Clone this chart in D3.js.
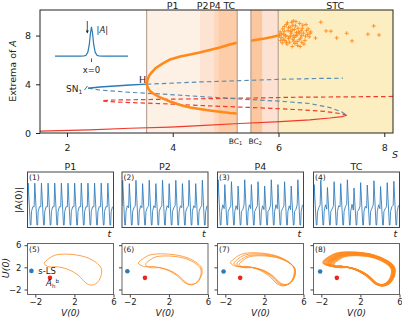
<!DOCTYPE html>
<html>
<head>
<meta charset="utf-8">
<script src="https://cdn.jsdelivr.net/npm/d3@7"></script>
<style>
  body { margin: 0; background: #fff; }
  svg { display: block; font-family: 'DejaVu Sans', sans-serif; }
</style>
</head>
<body>
<div id="chart"></div>
<script>
// ---- top panel: bifurcation diagram (s, extrema of A) ----
const redSolidS = [1.49, 2.43, 3.19, 3.95, 4.51, 5.27, 6.03, 6.59, 6.97, 7.20, 7.29];
const redSolidA = [0.15, 0.25, 0.39, 0.49, 0.61, 0.78, 0.93, 1.08, 1.23, 1.35, 1.46];
const redDashS = [8.165, 7.35, 6.40, 5.46, 4.51, 3.57, 2.91, 2.66, 2.72, 3.19, 3.95, 4.51, 5.27, 5.84, 6.40, 6.88, 7.16, 7.29];
const redDashA = [3.00, 2.97, 2.94, 2.87, 2.81, 2.75, 2.71, 2.66, 2.59, 2.50, 2.38, 2.26, 2.13, 2.03, 1.91, 1.77, 1.60, 1.46];
const blueSolidS = [2.40, 2.62, 2.91, 3.19, 3.51];
const blueSolidA = [3.68, 3.78, 3.86, 3.94, 4.01];
const blueUpS = [3.51, 4.51, 5.27, 6.03, 6.78, 7.22];
const blueUpA = [4.01, 4.19, 4.30, 4.41, 4.48, 4.50];
const blueLowS = [2.40, 2.62, 3.19, 3.95, 4.51, 5.27, 6.03, 6.59, 6.97, 7.20, 7.29];
const blueLowA = [3.68, 3.53, 3.34, 3.16, 3.00, 2.79, 2.61, 2.42, 2.09, 1.72, 1.46];
const orMaxS = [3.507, 3.522, 3.55, 3.607, 3.68, 3.80, 3.95, 4.14, 4.33, 4.51, 4.70, 4.89, 5.08, 5.21];
const orMaxA = [4.01, 4.35, 4.68, 5.01, 5.34, 5.67, 6.04, 6.28, 6.45, 6.61, 6.82, 7.02, 7.27, 7.42];
const orMinS = [3.507, 3.53, 3.57, 3.645, 3.76, 3.95, 4.14, 4.33, 4.51, 4.70, 4.89, 5.08, 5.21];
const orMinA = [4.01, 3.70, 3.45, 3.20, 2.92, 2.59, 2.30, 2.09, 1.97, 1.85, 1.74, 1.64, 1.60];
const orPostS = [5.48, 5.61, 5.74, 5.88, 5.99];
const orPostA = [7.58, 7.68, 7.76, 7.88, 8.01];
const stcPoints = [
  [6.02,8.05],[6.05,7.85],[6.03,8.3],[6.08,8.55],[6.10,8.1],[6.12,7.6],[6.07,7.4],[6.15,8.9],[6.18,8.4],
  [6.20,7.9],[6.16,7.3],[6.22,8.7],[6.25,9.1],[6.24,8.2],[6.27,7.7],[6.30,8.5],[6.28,9.2],[6.33,8.0],
  [6.35,7.5],[6.32,8.8],[6.38,8.3],[6.40,9.0],[6.42,7.8],[6.45,8.6],[6.47,8.2],[6.50,7.6],[6.52,8.9],
  [6.55,8.1],[6.58,7.9],[6.48,7.3],[6.36,7.2],[6.26,7.1],[6.14,8.0],[6.19,8.65],[6.29,8.0],[6.37,8.6],
  [6.43,8.4],[6.11,8.75],[6.21,7.45],[6.31,7.35],[6.41,7.1],[6.06,8.15],[6.13,7.95],[6.23,7.95],[6.34,8.25],
  [6.44,8.0],[6.53,8.4],[6.17,9.05],[6.26,8.45],[6.39,7.65],[6.09,7.7],[6.46,8.85],[6.56,8.55],[6.33,9.15],
  [6.19,7.75],[6.29,7.55],[6.04,7.6],[6.51,7.95],[6.23,8.35],[6.35,8.05],[6.60,8.2],[6.15,7.45],[6.40,8.2],
  [6.01,8.0],[6.27,8.85],[6.11,8.35],[6.44,7.45],[6.30,7.85],
  [6.61,8.30],[6.70,7.8],[6.80,9.10],[6.90,8.38],[6.99,8.36],[7.10,7.81],[7.29,8.19],[7.39,7.56],
  [7.69,8.11],[7.80,8.79],[7.90,8.05]
];
const bandStart = [3.507, 4.514, 4.78, 4.86, 5.478, 5.70, 5.994];
const bandEnd   = [4.514, 4.78, 4.86, 5.219, 5.70, 5.994, 8.165];
const boundaryS = [3.507, 5.219, 5.478, 5.994];
const xTicks = [2, 4, 6, 8];
const yTicks = [0, 4, 8];

// inset profile |A| vs x
const insetX = [-10, -6, -3, -2, -1.5, -1, -0.6, -0.3, 0, 0.3, 0.6, 1, 1.5, 2, 3, 6, 10];
const insetA = [0.1, 0.1, 0.1, 0.12, 0.2, 0.6, 1.6, 3.0, 3.9, 3.0, 1.6, 0.6, 0.2, 0.12, 0.1, 0.1, 0.1];

// ---- middle row: |A(0)| time series ----
const panelNames = ['P1', 'P2', 'P4', 'TC'];
const peaksP1 = [0.89, 0.89, 0.89, 0.89, 0.89, 0.89, 0.89, 0.89, 0.89, 0.89, 0.89, 0.89, 0.89];
const peaksP2 = [0.95, 0.88, 0.95, 0.88, 0.95, 0.88, 0.95, 0.88, 0.95, 0.88, 0.95, 0.88, 0.95];
const peaksP4 = [0.96, 0.86, 0.92, 0.83, 0.96, 0.86, 0.92, 0.83, 0.96, 0.86, 0.92, 0.83, 0.96];
const peaksTC = [0.86, 0.95, 0.80, 0.92, 0.88, 0.96, 0.79, 0.90, 0.85, 0.94, 0.82, 0.90, 0.93];
const midsP1 = [0.40, 0.40, 0.40, 0.40, 0.40, 0.40, 0.40, 0.40, 0.40, 0.40, 0.40, 0.40, 0.40];
const midsP2 = [0.42, 0.38, 0.42, 0.38, 0.42, 0.38, 0.42, 0.38, 0.42, 0.38, 0.42, 0.38, 0.42];
const midsP4 = [0.44, 0.36, 0.42, 0.34, 0.44, 0.36, 0.42, 0.34, 0.44, 0.36, 0.42, 0.34, 0.44];
const midsTC = [0.38, 0.44, 0.35, 0.42, 0.40, 0.45, 0.33, 0.41, 0.37, 0.44, 0.36, 0.40, 0.43];
const cyclePhase = [0, 0.10, 0.42, 0.52, 0.60, 0.80];
const cycleLevel = ['m', 'p', 0.02, 0.02, 0.30, 'm'];

// ---- bottom row: (V(0), U(0)) phase portraits ----
const loopV = [4.79, 4.6, 4.2, 3.7, 3.2, 2.4, 1.4, 0.35, -0.6, -1.09, -0.6, 0.0, 1.37, 3.08, 4.2, 4.7];
const loopU = [1.18, -0.1, -0.95, -1.2, -0.85, 0.55, 1.6, 2.08, 2.1, 2.7, 3.6, 4.19, 4.37, 3.89, 2.9, 2.0];
// each loop: [stretch V, stretch U, shift V, shift U]
const loopsP1 = [[1, 1, 0, 0]];
const loopsP2 = [[1.11, 1.0, 0.29, 0.05], [0.97, 0.92, 0.6, -0.1]];
const loopsP4 = [[1.11, 1.07, -0.05, 0.05], [1.06, 1.02, 0.15, 0.0], [1.02, 0.97, 0.32, -0.06], [0.98, 0.93, 0.45, -0.1]];
const loopsTC = [
  [1.26, 1.10, 0.00, 0.12], [1.25, 1.08, 0.04, 0.10], [1.22, 1.09, 0.05, 0.08], [1.21, 1.06, 0.10, 0.07],
  [1.18, 1.07, 0.11, 0.05], [1.17, 1.04, 0.16, 0.05], [1.14, 1.04, 0.17, 0.02], [1.13, 1.01, 0.22, 0.01],
  [1.10, 1.02, 0.23, 0.00], [1.09, 0.99, 0.28, -0.02], [1.06, 0.98, 0.30, -0.03], [1.05, 0.96, 0.34, -0.05],
  [1.02, 0.95, 0.36, -0.06], [1.00, 0.93, 0.40, -0.08], [1.15, 1.03, 0.20, 0.03], [1.08, 1.0, 0.26, -0.01]
];
const lsV = [-2.4, -2.25, -2.18, -2.12];
const lsU = [1.36, 1.3, 1.25, 1.25];
const hbV = [-0.5, -0.45, -0.48, -0.41];
const hbU = [0.1, 0.1, 0.1, 0.1];
const phaseTicks = [-2, 2, 6];

// ---- drawing ----
const W = 402, H = 319;
const svg = d3.select('#chart').append('svg').attr('width', W).attr('height', H);
svg.append('rect').attr('width', W).attr('height', H).attr('fill', '#fff');

const bandFill = ['#fdf0e4', '#fde4d2', '#fdd8bf', '#fccda8', '#fbc79e', '#fde1d2', '#fdeec1'];
const cBlue = '#2c7bb6', cBlueDash = '#5a8db5', cRed = '#ee3b2b', cOrange = '#ff8a1c';

const x = d3.scaleLinear().domain([1.49, 8.165]).range([40, 393]);
const y = d3.scaleLinear().domain([0, 10.1]).range([133, 10]);
const g = svg.append('g');

bandStart.forEach((s0, i) => {
  g.append('rect')
    .attr('x', x(s0)).attr('y', y(10.1))
    .attr('width', x(bandEnd[i]) - x(s0)).attr('height', y(0) - y(10.1))
    .attr('fill', bandFill[i]);
});
boundaryS.forEach(s => {
  g.append('line').attr('x1', x(s)).attr('x2', x(s)).attr('y1', y(0)).attr('y2', y(10.1))
    .attr('stroke', '#a58a7a').attr('stroke-width', 0.9);
});

const line = d3.line().x(d => x(d[0])).y(d => y(d[1]));
function curve(sArr, aArr, color, width, dash) {
  g.append('path').attr('d', line(d3.zip(sArr, aArr)))
    .attr('fill', 'none').attr('stroke', color).attr('stroke-width', width)
    .attr('stroke-dasharray', dash || null);
}
curve(redSolidS, redSolidA, cRed, 1.2);
curve(redDashS, redDashA, cRed, 1.2, '4.5,3');
curve(blueLowS, blueLowA, cBlueDash, 1.2, '4.5,3');
curve(blueUpS, blueUpA, cBlueDash, 1.2, '4.5,3');
curve(blueSolidS, blueSolidA, cBlue, 1.4);
curve(orMaxS, orMaxA, cOrange, 2.6);
curve(orMinS, orMinA, cOrange, 2.6);
curve(orPostS, orPostA, cOrange, 2.6);

g.selectAll('path.stc').data(stcPoints).enter().append('path')
  .attr('class', 'stc')
  .attr('d', 'M-2,0H2M0,-2V2')
  .attr('transform', d => `translate(${x(d[0])},${y(d[1])})`)
  .attr('stroke', cOrange).attr('stroke-width', 0.9).attr('fill', 'none');

g.append('rect').attr('x', 40).attr('y', 10).attr('width', 353).attr('height', 123)
  .attr('fill', 'none').attr('stroke', '#222').attr('stroke-width', 1);

const xAxis = g.append('g').attr('transform', 'translate(0,133)')
  .call(d3.axisBottom(x).tickValues(xTicks).tickSize(4).tickPadding(7).tickFormat(d3.format('d')));
const yAxis = g.append('g').attr('transform', 'translate(40,0)')
  .call(d3.axisLeft(y).tickValues(yTicks).tickSize(4).tickPadding(5).tickFormat(d3.format('d')));
[xAxis, yAxis].forEach(a => {
  a.select('.domain').remove();
  a.selectAll('text').attr('font-size', 9.5).attr('fill', '#222').attr('font-family', 'DejaVu Sans');
  a.selectAll('line').attr('stroke', '#222');
});

svg.append('text').attr('transform', 'translate(16,71) rotate(-90)')
  .attr('text-anchor', 'middle').attr('font-size', 9.5).attr('fill', '#222')
  .html('Extrema of <tspan font-style="italic">A</tspan>');
svg.append('text').attr('x', 392).attr('y', 158).attr('font-size', 9.5)
  .attr('font-style', 'italic').attr('fill', '#222').text('S');

const topLabels = [['P1', 4.0], ['P2', 4.565], ['P4', 4.80], ['TC', 5.07], ['STC', 7.07]];
topLabels.forEach(([t, s]) => {
  svg.append('text').attr('x', x(s)).attr('y', 8.5).attr('text-anchor', 'middle')
    .attr('font-size', 9.5).attr('fill', '#222').text(t);
});
[['1', 5.219, -8.5], ['2', 5.478, -2.5]].forEach(([k, s, off]) => {
  svg.append('text').attr('x', x(s) + off).attr('y', 143.5).attr('font-size', 7.5).attr('fill', '#222')
    .html(`BC<tspan font-size="5" dy="1.5">${k}</tspan>`);
});
svg.append('text').attr('x', 139).attr('y', 82.5).attr('font-size', 9.5).attr('fill', '#222').text('H');
svg.append('text').attr('x', 66).attr('y', 91.5).attr('font-size', 9).attr('fill', '#222')
  .html('SN<tspan font-size="6" dy="2">1</tspan>');
svg.append('line').attr('x1', 84.5).attr('y1', 90).attr('x2', 87.5).attr('y2', 86)
  .attr('stroke', '#222').attr('stroke-width', 0.7);

// inset
const ix = d3.scaleLinear().domain([-10, 10]).range([55, 128]);
const iy = d3.scaleLinear().domain([0, 4]).range([56.8, 26]);
svg.append('path').attr('d', d3.line().x(d => ix(d[0])).y(d => iy(d[1]))(d3.zip(insetX, insetA)))
  .attr('fill', 'none').attr('stroke', cBlue).attr('stroke-width', 1.2);
svg.append('line').attr('x1', ix(0)).attr('x2', ix(0)).attr('y1', 58.5).attr('y2', 62)
  .attr('stroke', '#222').attr('stroke-width', 0.8);
svg.append('text').attr('x', ix(0)).attr('y', 73).attr('text-anchor', 'middle')
  .attr('font-size', 8.5).attr('fill', '#222').text('x=0');
svg.append('line').attr('x1', 87.3).attr('x2', 87.3).attr('y1', 21).attr('y2', 32.5)
  .attr('stroke', '#222').attr('stroke-width', 0.8);
svg.append('path').attr('d', 'M85.8,30.5L87.3,33.5L88.8,30.5Z').attr('fill', '#222');
svg.append('text').attr('x', 96.5).attr('y', 32.5).attr('font-size', 8.5).attr('fill', '#222')
  .html('|<tspan font-style="italic">A</tspan>|');

// middle row
const px0 = [27.5, 122, 217.5, 313.5], pw = 86;
const peaksAll = [peaksP1, peaksP2, peaksP4, peaksTC];
const midsAll = [midsP1, midsP2, midsP4, midsTC];
const ty = d3.scaleLinear().domain([0, 1.08]).range([226, 174]);
panelNames.forEach((name, i) => {
  const peaks = peaksAll[i], mids = midsAll[i];
  const tx = d3.scaleLinear().domain([0, peaks.length - 0.05]).range([px0[i], px0[i] + pw]);
  const pts = [];
  peaks.forEach((p, k) => {
    cyclePhase.forEach((ph, j) => {
      const lv = cycleLevel[j];
      pts.push([k + ph, lv === 'p' ? p : lv === 'm' ? mids[k] : lv]);
    });
  });
  const cid = 'clipT' + i;
  svg.append('clipPath').attr('id', cid).append('rect')
    .attr('x', px0[i]).attr('y', 172).attr('width', pw).attr('height', 55.5);
  svg.append('path').attr('clip-path', `url(#${cid})`)
    .attr('d', d3.line().x(d => tx(d[0])).y(d => ty(d[1]))(pts))
    .attr('fill', 'none').attr('stroke', '#2a78b8').attr('stroke-width', 0.85);
  svg.append('rect').attr('x', px0[i]).attr('y', 172).attr('width', pw).attr('height', 55.5)
    .attr('fill', 'none').attr('stroke', '#444').attr('stroke-width', 1);
  svg.append('text').attr('x', px0[i] + pw / 2).attr('y', 170).attr('text-anchor', 'middle')
    .attr('font-size', 9.5).attr('fill', '#222').text(name);
  svg.append('text').attr('x', px0[i] + 1.5).attr('y', 180).attr('font-size', 7.5)
    .attr('fill', '#222').text(`(${i + 1})`);
  svg.append('text').attr('x', px0[i] + pw - 6).attr('y', 237).attr('font-size', 9.5)
    .attr('font-style', 'italic').attr('fill', '#222').text('t');
});
svg.append('text').attr('transform', 'translate(22,200) rotate(-90)')
  .attr('text-anchor', 'middle').attr('font-size', 9.5).attr('fill', '#222').text('|A(0)|');

// bottom row
const loopsAll = [loopsP1, loopsP2, loopsP4, loopsTC];
const Vc = 1.85, Uc = 1.58;
const uy = d3.scaleLinear().domain([-2.9, 6.3]).range([294.5, 243.5]);
panelNames.forEach((name, i) => {
  const vx = d3.scaleLinear().domain([-2.8, 6.0]).range([px0[i], px0[i] + pw]);
  const lg = d3.line().x(d => vx(d[0])).y(d => uy(d[1])).curve(d3.curveCatmullRomClosed);
  loopsAll[i].forEach(([sv, su, dv, du]) => {
    const pts = loopV.map((v, k) => [Vc + sv * (v - Vc) + dv, Uc + su * (loopU[k] - Uc) + du]);
    svg.append('path').attr('d', lg(pts)).attr('fill', 'none').attr('stroke', cOrange)
      .attr('stroke-width', i === 3 ? 1.1 : 0.8).attr('stroke-opacity', i === 3 ? 0.75 : 1);
  });
  svg.append('circle').attr('cx', vx(lsV[i])).attr('cy', uy(lsU[i])).attr('r', 2.3).attr('fill', '#2b7bba');
  svg.append('circle').attr('cx', vx(hbV[i])).attr('cy', uy(hbU[i])).attr('r', 2.3).attr('fill', '#e8261e');
  svg.append('rect').attr('x', px0[i]).attr('y', 243.5).attr('width', pw).attr('height', 51)
    .attr('fill', 'none').attr('stroke', '#666').attr('stroke-width', 1);
  const ax = svg.append('g').attr('transform', 'translate(0,294.5)')
    .call(d3.axisBottom(vx).tickValues(phaseTicks).tickSize(3).tickPadding(1).tickFormat(d3.format('d')));
  const ay = svg.append('g').attr('transform', `translate(${px0[i]},0)`)
    .call(d3.axisLeft(uy).tickValues(phaseTicks).tickSize(3).tickPadding(3)
      .tickFormat(i === 0 ? d3.format('d') : () => ''));
  [ax, ay].forEach(a => {
    a.select('.domain').remove();
    a.selectAll('text').attr('font-size', 8.5).attr('fill', '#222').attr('font-family', 'DejaVu Sans');
    a.selectAll('line').attr('stroke', '#444');
  });
  svg.append('text').attr('x', px0[i] + pw / 2).attr('y', 315.5).attr('text-anchor', 'middle')
    .attr('font-size', 9).attr('font-style', 'italic').attr('fill', '#222').text('V(0)');
  svg.append('text').attr('x', px0[i] + 1.5).attr('y', 251.5).attr('font-size', 7.5)
    .attr('fill', '#222').text(`(${i + 5})`);
});
svg.append('text').attr('transform', 'translate(9,268) rotate(-90)')
  .attr('text-anchor', 'middle').attr('font-size', 9.5).attr('font-style', 'italic').attr('fill', '#222').text('U(0)');
const v5 = d3.scaleLinear().domain([-2.8, 6.0]).range([px0[0], px0[0] + pw]);
svg.append('text').attr('x', v5(-1.7)).attr('y', uy(1.36) + 3.5).attr('font-size', 8.5).attr('fill', '#222').text('s-LS');
svg.append('text').attr('x', v5(-0.9)).attr('y', uy(-1.3)).attr('font-size', 8.5).attr('fill', '#222')
  .html('<tspan font-style="italic">A</tspan><tspan font-size="5.5" dy="2">h</tspan><tspan font-size="5.5" dy="-5">b</tspan>');
</script>
</body>
</html>
